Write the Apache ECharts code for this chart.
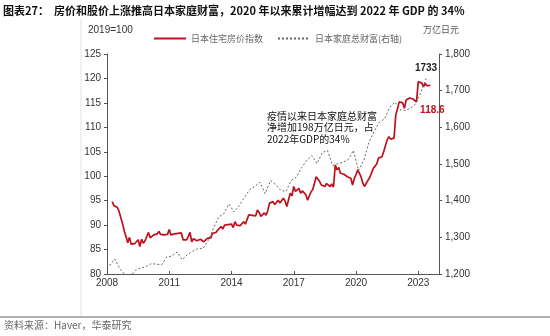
<!DOCTYPE html>
<html><head><meta charset="utf-8">
<script src="https://cdn.jsdelivr.net/npm/echarts@6/dist/echarts.min.js"></script>
<style>html,body{margin:0;padding:0;background:#fff}#c{width:550px;height:336px}</style>
</head><body><div id="c"></div>
<script>
// ---- Data ----
const titleText = '图表27：  房价和股价上涨推高日本家庭财富，2020 年以来累计增幅达到 2022 年 GDP 的 34%';
const sourceText = '资料来源：Haver，华泰研究';
const seriesNames = ['日本住宅房价指数', '日本家庭总财富(右轴)'];
const leftUnit = '2019=100';
const rightUnit = '万亿日元';
const noteLines = ['疫情以来日本家庭总财富', '净增加198万亿日元，占', '2022年GDP的34%'];
const xTicks = [2008, 2011, 2014, 2017, 2020, 2023];

// House price index, monthly, starting April 2008
const houseStart = [2008, 4];
const houseIndex = [
  94.8, 94.0, 94.3, 93.6, 92.8, 91.5, 90.3, 88.8, 87.6,
  86.4, 87.5, 86.1, 85.9, 86.2, 86.6, 87.0, 85.6, 87.1, 86.3, 86.8, 87.2,
  88.5, 87.4, 87.8, 88.0, 87.6, 88.2, 88.7, 88.1, 88.3, 88.0, 87.8, 88.1,
  89.1, 88.0, 87.9, 88.2, 88.5, 88.3, 88.6, 88.4, 87.0, 87.3, 87.0, 87.7,
  88.5, 86.6, 87.2, 87.1, 86.8, 86.6, 87.1, 87.3, 86.6, 86.9, 87.3, 87.0,
  87.4, 88.3, 88.0, 88.5, 89.0, 89.4, 89.7, 89.2, 90.0, 89.6, 90.1, 90.4,
  90.2, 89.5, 90.7, 90.0, 90.4, 89.9, 90.3, 90.7, 90.2, 90.5, 92.1, 92.4,
  92.0, 92.3, 91.9, 93.1, 92.6, 91.8, 92.2, 92.5, 92.0, 93.0, 94.5, 94.2,
  94.8, 94.2, 94.6, 95.1, 94.5, 94.3, 95.5, 94.9, 93.8, 95.2, 96.5, 96.0,
  97.9, 96.9, 97.2, 97.5, 96.5, 97.0, 96.8, 96.2, 95.1, 96.0, 96.8, 97.3,
  97.5, 99.9, 99.4, 98.9, 98.2, 98.6, 97.9, 98.5, 98.1, 97.9, 98.4, 97.8,
  102.3, 101.3, 101.8, 100.6, 100.9, 100.4, 100.6, 99.9, 100.2, 99.6, 98.2, 99.5,
  100.3, 101.3, 100.6, 99.8, 98.5, 97.9, 98.6, 99.2, 99.8, 100.2, 101.6, 101.2,
  102.5, 103.7, 103.3, 104.0, 105.0, 105.2, 107.4, 108.1, 107.6, 107.4, 107.8, 112.5,
  113.8, 115.2, 115.6, 115.0, 113.9, 115.6, 115.4, 116.0, 116.3, 115.8, 115.6, 115.2,
  119.3, 118.9, 119.1, 118.3, 119.0, 118.5, 118.9, 118.6
];

// Household total wealth (trillion yen), quarterly, starting 2008 Q1
const wealthStart = [2008, 1];
const wealth = [
  1223, 1241, 1214, 1197,
  1194, 1210, 1216, 1220,
  1228, 1227, 1225, 1246,
  1249, 1260, 1239, 1253,
  1262, 1269, 1269, 1291,
  1324, 1355, 1364, 1391,
  1369, 1387, 1409, 1430,
  1439, 1450, 1419, 1455,
  1444, 1428, 1425, 1455,
  1464, 1490, 1510, 1523,
  1501, 1531, 1537, 1496,
  1501, 1505, 1512, 1537,
  1482, 1510, 1559, 1589,
  1614, 1623, 1654, 1669,
  1648, 1646, 1652, 1664,
  1695, 1733
];

// ---- Build series pairs (decimal year) ----
const houseData = houseIndex.map((v, i) => [houseStart[0] + (houseStart[1] - 1 + i) / 12, v]);
const wealthData = wealth.map((v, i) => [wealthStart[0] + ((wealthStart[1] - 1 + i) * 3 + 1.5) / 12, v]);
const lastHouse = houseData[houseData.length - 1];
const lastWealth = wealthData[wealthData.length - 1];

const RED = '#BE111C';
const FONT = '"Liberation Sans", Arial, sans-serif';
const CJK = '"Noto Sans CJK SC", sans-serif';

const chart = echarts.init(document.getElementById('c'), null, {renderer: 'canvas'});
chart.setOption({
  animation: false,
  backgroundColor: '#fff',
  grid: {left: 107, right: 111, top: 54, bottom: 62},
  legend: {
    left: 148, top: 29,
    itemWidth: 32, itemHeight: 8, itemGap: 14,
    itemStyle: {opacity: 0},
    textStyle: {fontFamily: CJK, fontSize: 9, color: '#666'},
    data: seriesNames
  },
  xAxis: {
    type: 'value', min: 2008, max: 2024, interval: 3,
    axisLine: {lineStyle: {color: '#555', width: 1}},
    axisTick: {show: true, inside: true, length: 3, lineStyle: {color: '#555'}},
    axisLabel: {fontFamily: FONT, fontSize: 10, color: '#333', margin: 4,
      showMaxLabel: false, formatter: v => String(v)},
    splitLine: {show: false}
  },
  yAxis: [{
    type: 'value', min: 80, max: 125, interval: 5,
    axisLine: {show: true, lineStyle: {color: '#555', width: 1}},
    axisTick: {show: true, length: 3, lineStyle: {color: '#555'}},
    axisLabel: {fontFamily: FONT, fontSize: 10, color: '#333', margin: 6},
    splitLine: {show: false}
  }, {
    type: 'value', min: 1200, max: 1800, interval: 100,
    axisLine: {show: true, lineStyle: {color: '#555', width: 1}},
    axisTick: {show: true, length: 3, lineStyle: {color: '#555'}},
    axisLabel: {fontFamily: FONT, fontSize: 10, color: '#333', margin: 6},
    splitLine: {show: false}
  }],
  series: [{
    name: seriesNames[0], type: 'line', yAxisIndex: 0,
    data: houseData, symbol: 'none', lineStyle: {color: RED, width: 1.7}, itemStyle: {color: RED},
    markPoint: {
      symbol: 'circle', symbolSize: 0,
      data: [{coord: lastHouse, value: lastHouse[1],
        label: {show: true, position: 'bottom', offset: [2, 15], formatter: '{c}',
          fontFamily: FONT, fontSize: 10, fontWeight: 'bold', color: RED}}]
    }
  }, {
    name: seriesNames[1], type: 'line', yAxisIndex: 1,
    data: wealthData, symbol: 'none', lineStyle: {color: '#666', width: 1, type: [2, 2]}, itemStyle: {color: '#666'},
    markPoint: {
      symbol: 'circle', symbolSize: 0,
      data: [{coord: lastWealth, value: lastWealth[1],
        label: {show: true, position: 'top', offset: [0, 0], formatter: '{c}',
          fontFamily: FONT, fontSize: 10, fontWeight: 'bold', color: '#222'}}]
    }
  }],
  graphic: [
    {type: 'text', left: 3, top: 5, style: {text: titleText, font: 'bold 11px ' + CJK, fill: '#111'}},
    {type: 'line', shape: {x1: 81, y1: 19, x2: 81, y2: 317}, style: {stroke: '#e2e2e2', lineWidth: 1}},
    {type: 'line', shape: {x1: 0, y1: 317, x2: 550, y2: 317}, style: {stroke: '#999', lineWidth: 1.5}},
    {type: 'text', left: 88, top: 25, style: {text: leftUnit, font: '10px ' + FONT, fill: '#333'}},
    {type: 'text', left: 423, top: 25, style: {text: rightUnit, font: '9px ' + CJK, fill: '#555'}},
    {type: 'text', left: 267, top: 110, style: {text: noteLines.join('\n'), font: '10px ' + CJK, fill: '#111', lineHeight: 11.5}},
    {type: 'text', left: 4, top: 320, style: {text: sourceText, font: '10px ' + CJK, fill: '#666'}}
  ]
});
</script></body></html>
